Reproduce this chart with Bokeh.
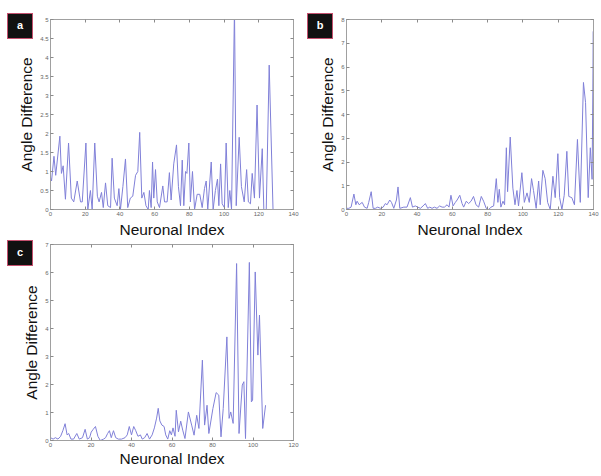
from bokeh.plotting import figure
from bokeh.models import Range1d, LinearAxis, FixedTicker, CustomJSTickFormatter, Div, GridBox
from bokeh.embed import file_html
from bokeh.resources import INLINE

# ---------------- data ----------------
a_idx = [0, 0.6, 2, 3, 5.4, 6.3, 7.3, 8.6, 10.4, 12, 13.4, 15.4, 17.3, 18.3, 20.4, 21.5, 23, 24,
         25.5, 27, 28, 29.4, 30.4, 31.7, 33, 34.6, 35.5, 36.8, 38.4, 39.4, 40.3, 41.7, 43.2, 44.5,
         46, 47.4, 49, 50.3, 51.4, 52.6, 53.8, 55, 56.3, 57, 58, 58.8, 59.5, 60.5, 61.5, 62.8,
         64.7, 65.7, 67.2, 68.5, 69.5, 71, 72.6, 73.7, 74.9, 75.9, 76.8, 77.8, 78.6, 79.7, 80.6,
         81.8, 83, 84.5, 86, 87.4, 88.7, 89.7, 90.6, 92.6, 93.7, 95, 96.2, 97, 98, 98.9, 100.2,
         101.2, 102.4, 103.3, 104.3, 106, 107, 108.7, 110, 111.6, 113, 114, 115.2, 116.2, 117.5,
         119, 120.4, 122, 122.9, 124.3, 126, 128.2]
a_val = [0.85, 0.75, 1.4, 0.9, 1.93, 0.95, 1.15, 0.27, 1.75, 0.3, 0.2, 0.75, 0.2, 0.2, 1.75, 0.0, 0.5, 0.0,
         1.75, 0.35, 0.2, 0.45, 0.05, 0.7, 0.1, 0.05, 1.35, 0.3, 0.1, 0.55, 0.0, 0.6, 1.33, 0.05,
         0.3, 0.35, 0.9, 1.0, 2.03, 0.3, 0.45, 0.1, 0.0, 0.5, 0.05, 1.25, 0.3, 1.05, 0.2, 0.05,
         0.62, 0.2, 0.2, 0.97, 0.25, 1.2, 1.7, 0.6, 0.1, 1.3, 0.1, 1.0, 0.95, 1.75, 0.2,
         1.0, 0.0, 0.4, 0.4, 0.05, 0.55, 0.75, 0.0, 1.25, 0.0, 0.5, 0.8, 0.1, 1.2, 0.15, 0.05,
         1.75, 0.05, 0.5, 0.0, 5.3, 0.1, 1.9, 0.6, 0.2, 1.05, 0.2, 0.15, 0.95, 0.3,
         2.75, 0.3, 1.6, 0.0, 0.0, 3.8, 0.0]

b_idx = [0, 1.3, 2.6, 4.2, 5.3, 6, 7.2, 8.9, 10.2, 11.7, 12.6, 14, 15.1, 16.4, 17.7, 19.2, 20.8,
         22, 23, 24.5, 25.5, 26.8, 28.3, 29.2, 30.2, 32.5, 34.3, 36.2, 37.4, 39, 40.4, 41.9, 43.4,
         44.7, 46, 47.2, 48.5, 49.8, 51.3, 52.8, 54.2, 55.5, 57, 58.1, 59.2, 60.4, 61.7, 62.7,
         64.2, 65.5, 66.4, 67.9, 69.2, 70.6, 72, 73.4, 74.9, 76.4, 77.7, 79.2, 80.6, 81.9, 83.4,
         84.9, 85.8, 86.6, 87.5, 88.7, 89.6, 90.6, 91.3, 92.8, 94.3, 95.5, 96.6, 97.5, 99.4,
         100.8, 102.3, 103.6, 104.9, 106, 107.5, 108.9, 109.8, 111.3, 112.6, 114, 115.5, 117,
         118.3, 119.8, 120.8, 122.1, 123.4, 124.9, 126, 127.7, 129.2, 130.9, 132.5, 134.3,
         135.5, 137, 138.2, 139.2, 139.9, 140.1]
b_val = [0.05, 0.05, 0.1, 0.65, 0.2, 0.35, 0.2, 0.3, 0.1, 0.05, 0.3, 0.75, 0.05, 0.05, 0.1, 0.05, 0.1,
         0.25, 0.2, 0.4, 0.3, 0.05, 0.4, 0.95, 0.05, 0.1, 0.1, 0.5, 0.1, 0.15, 0.1, 0.05, 0.15,
         0.25, 0.05, 0.1, 0.05, 0.1, 0.05, 0.15, 0.1, 0.1, 0.2, 0.1, 0.6, 0.15, 0.3, 0.4,
         0.6, 0.25, 0.1, 0.35, 0.25, 0.35, 0.55, 0.2, 0.1, 0.55, 0.35, 0.05, 0.0, 0.1, 0.15,
         1.3, 0.3, 0.85, 0.1, 0.35, 0.2, 2.6, 0.75, 3.05, 0.9, 0.2, 0.8, 0.15, 1.55,
         0.3, 0.7, 0.3, 1.3, 0.8, 0.05, 1.2, 0.2, 1.65, 1.3, 0.3, 0.0, 1.4,
         0.5, 2.35, 0.5, 0.0, 0.6, 2.45, 0.55, 0.5, 0.2, 2.95, 0.3, 5.35,
         4.5, 0.5, 2.6, 1.27, 7.5, 2.5]

c_idx = [0, 1.3, 2.4, 3.7, 5, 6.1, 7.2, 8.2, 9, 10.1, 11.4, 13, 14.2, 15.8, 17.1, 18.2, 19.3, 20.1,
         21.1, 22.2, 23.4, 24.6, 26.2, 27.2, 28.2, 29.1, 30, 31.1, 32.2, 33.5, 35.1, 36.8, 37.9,
         38.9, 40, 41.1, 42.1, 43.2, 44.4, 45.3, 46.5, 47.7, 48.9, 50.2, 51.3, 52.4, 53.2, 54, 55,
         56.1, 56.9, 57.9, 58.9, 59.7, 60.5, 61.5, 62.1, 63.2, 64.3, 65.3, 66.4, 68.1, 69.7, 70.9,
         72.2, 73.3, 75.0, 76.1, 77.3, 78.2, 80.2, 81.8, 83.1, 84.2, 85.3, 87.1, 88.2, 89.0, 90.2,
         91.9, 93.1, 94.7, 95.5, 96.3, 98.2, 99.2, 99.8, 101.1, 102.4, 103.2, 104.8, 106.2]
c_val = [0.1, 0.05, 0.1, 0.05, 0.15, 0.35, 0.6, 0.2, 0.25, 0.05, 0.05, 0.25, 0.05, 0.1, 0.4, 0.05, 0.1, 0.3,
         0.4, 0.5, 0.15, 0.0, 0.05, 0.1, 0.25, 0.35, 0.1, 0.35, 0.1, 0.05, 0.05, 0.1, 0.2,
         0.5, 0.2, 0.5, 0.35, 0.15, 0.2, 0.05, 0.1, 0.25, 0.05, 0.2, 0.45, 0.8, 1.15, 0.7, 0.55,
         0.5, 0.2, 0.05, 0.35, 0.2, 0.45, 0.15, 1.08, 0.31, 0.69, 0.37, 0.07, 1.02, 0.55, 0.19,
         0.9, 0.43, 2.87, 0.55, 1.26, 0.25, 1.14, 1.71, 1.62, 0.13, 1.14, 3.7, 0.79, 1.02, 0.61,
         6.32, 0.25, 1.98, 2.1, 0.07, 6.36, 1.38, 1.44, 6.02, 3.05, 4.48, 0.43, 1.26]

a_xticks = [0, 20, 40, 60, 80, 100, 120, 140]
a_yticks = [0, 0.5, 1, 1.5, 2, 2.5, 3, 3.5, 4, 4.5, 5]
b_xticks = [0, 20, 40, 60, 80, 100, 120, 140]
b_yticks = [0, 1, 2, 3, 4, 5, 6, 7, 8]
c_xticks = [0, 20, 40, 60, 80, 100, 120]
c_yticks = [0, 1, 2, 3, 4, 5, 6, 7]

panel_letters = ["a", "b", "c"]
x_title = "Neuronal Index"
y_title = "Angle Difference"

LINE = "#8080d8"
FRAME = "#a0a0a0"
FONT = "Liberation Sans"

fmt_code = "return String(tick)"


def style_axis(ax, ticks, show_labels, title=None, title_standoff=2):
    ax.ticker = FixedTicker(ticks=ticks)
    ax.formatter = CustomJSTickFormatter(code=fmt_code)
    ax.axis_line_color = FRAME
    ax.major_tick_line_color = "#8a8a8a"
    ax.major_tick_in = 3
    ax.major_tick_out = 0
    ax.minor_tick_line_color = None
    ax.major_label_text_font = FONT
    if show_labels:
        ax.major_label_text_font_size = "6px"
        ax.major_label_text_color = "#666666"
        ax.major_label_standoff = 2
    else:
        ax.major_label_text_font_size = "1px"
        ax.major_label_text_color = None
        ax.major_label_standoff = 0
    if title:
        ax.axis_label = title
        ax.axis_label_text_font = FONT
        ax.axis_label_text_font_size = "15.5px"
        ax.axis_label_text_font_style = "normal"
        ax.axis_label_text_color = "#111111"
        ax.axis_label_standoff = title_standoff


def make_panel(xs, ys, xmax, ymax, xticks, yticks, w, h, bl, br, bt, bb, xstand=2):
    p = figure(width=w, height=h, x_range=Range1d(0, xmax), y_range=Range1d(0, ymax),
               output_backend="svg", toolbar_location=None,
               min_border_left=bl, min_border_right=br, min_border_top=bt, min_border_bottom=bb)
    p.xgrid.visible = False
    p.ygrid.visible = False
    p.outline_line_color = FRAME
    p.background_fill_color = "white"
    p.border_fill_color = "white"
    style_axis(p.xaxis[0], xticks, True, x_title, xstand)
    style_axis(p.yaxis[0], yticks, True, y_title)
    top = LinearAxis()
    style_axis(top, xticks, False)
    right = LinearAxis()
    style_axis(right, yticks, False)
    p.add_layout(top, "above")
    p.add_layout(right, "right")
    p.line(xs, ys, line_color=LINE, line_width=1)
    return p


def make_tag(letter, top, left):
    return Div(text=letter, width=26, height=26, margin=(top, 0, 0, left),
               styles={"background-color": "#111111", "border": "1.5px solid #c4506e",
                       "box-sizing": "border-box", "color": "white",
                       "font-family": FONT, "font-weight": "bold", "font-size": "11px",
                       "text-align": "center", "line-height": "23px", "z-index": "5"})


pa = make_panel(a_idx, a_val, 140, 5, a_xticks, a_yticks, 300, 240, 50, 7, 19, 29)
pb = make_panel(b_idx, b_val, 140, 8, b_xticks, b_yticks, 301, 240, 46, 8, 17, 27)
pc = make_panel(c_idx, c_val, 120, 7, c_xticks, c_yticks, 300, 236, 46, 6, 4, 36, xstand=0)

ta = make_tag(panel_letters[0], 13, 7)
tb = make_tag(panel_letters[1], 13, 7)
tc = make_tag(panel_letters[2], 0, 7)

grid = GridBox(children=[(pa, 0, 0), (pb, 0, 1), (pc, 1, 0),
                         (ta, 0, 0), (tb, 0, 1), (tc, 1, 0)])
open("out.html", "w").write(file_html(grid, INLINE))
